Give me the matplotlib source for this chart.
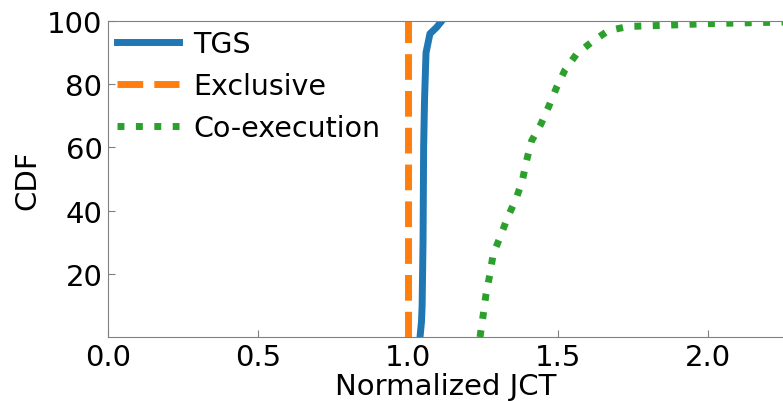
import numpy as np
import matplotlib.pyplot as plt

# CDF values
tgs_x = [1.040, 1.045, 1.047, 1.050, 1.052, 1.055, 1.060, 1.073, 1.095, 1.112]
tgs_y = [0, 5, 10, 30, 60, 75, 90, 96, 98, 100]

excl_x = [1.0, 1.0]
excl_y = [0, 100]

coex_x = [1.240, 1.251, 1.260, 1.273, 1.284, 1.309, 1.332, 1.360, 1.381, 1.395,
          1.412, 1.443, 1.470, 1.496, 1.523, 1.562, 1.614, 1.668, 1.734, 1.863,
          2.000, 2.200, 2.300]
coex_y = [0, 7.3, 13.6, 19.9, 26.3, 32.1, 37.9, 43.7, 49.5, 55.8,
          62.1, 67.4, 73.2, 79.2, 84.5, 89.6, 93.5, 97.0, 98.3, 98.7,
          99.2, 99.6, 99.8]

fs = 21

fig = plt.figure(figsize=(7.83, 4.02), dpi=100)
ax = fig.add_axes([0.138, 0.159, 0.862, 0.786])

ax.plot(tgs_x, tgs_y, color='#1f77b4', lw=5, label='TGS')
ax.plot(excl_x, excl_y, color='#ff7f0e', lw=5, ls='--', label='Exclusive')
ax.plot(coex_x, coex_y, color='#2ca02c', lw=5, ls=':', label='Co-execution')

ax.set_xlim(0, 2.25)
ax.set_ylim(0, 100)
ax.set_xticks([0.0, 0.5, 1.0, 1.5, 2.0])
ax.set_yticks([20, 40, 60, 80, 100])
ax.tick_params(direction='in', labelsize=fs, color='gray', length=5, pad=4)
for s in ['left', 'bottom', 'top']:
    ax.spines[s].set_color('gray')
ax.spines['right'].set_visible(False)

ax.set_xlabel('Normalized JCT', fontsize=fs, labelpad=1)
ax.set_ylabel('CDF', fontsize=fs, labelpad=4)

ax.legend(loc='upper left', frameon=False, fontsize=20.5, handlelength=2.2,
          handletextpad=0.5, borderaxespad=0, borderpad=0.3,
          labelspacing=0.5, bbox_to_anchor=(0.0, 1.0))

plt.savefig('out.png', dpi=100)
